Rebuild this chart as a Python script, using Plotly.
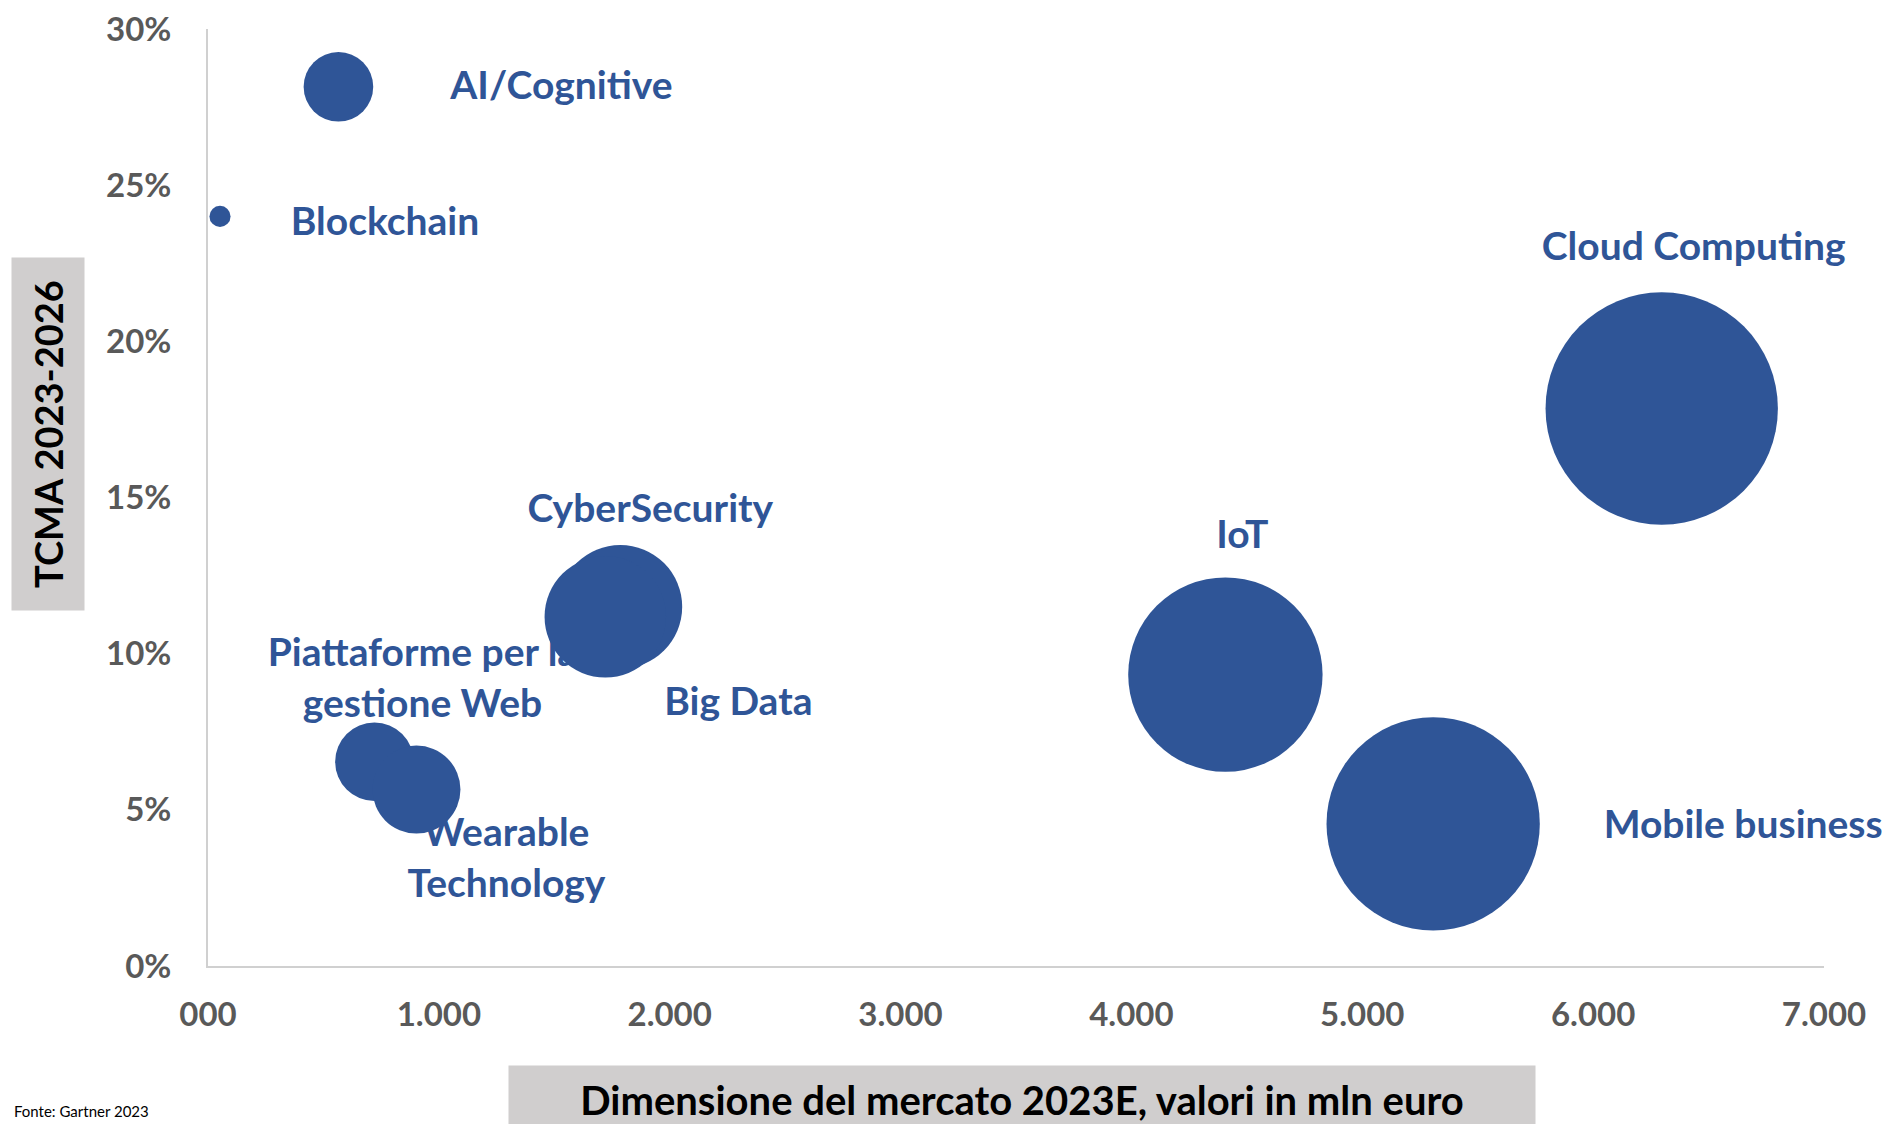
import plotly.graph_objects as go

# ---------------- data ----------------
technologies = [
    "AI/Cognitive",
    "Blockchain",
    "Cloud Computing",
    "CyberSecurity",
    "Big Data",
    "IoT",
    "Mobile business",
    "Piattaforme per la<br>gestione Web",
    "Wearable<br>Technology",
]
market_size_2023 = [565, 52, 6297, 1786, 1721, 4407, 5307, 721, 903]          # mln euro
tcma_2023_2026 = [0.2815, 0.240, 0.1785, 0.115, 0.1118, 0.0933, 0.0455, 0.0654, 0.0565]
bubble_size = market_size_2023

x_tick_values = [0, 1000, 2000, 3000, 4000, 5000, 6000, 7000]
x_tick_labels = ["000", "1.000", "2.000", "3.000", "4.000", "5.000", "6.000", "7.000"]
y_tick_values = [0, 0.05, 0.10, 0.15, 0.20, 0.25, 0.30]
y_tick_labels = ["0%", "5%", "10%", "15%", "20%", "25%", "30%"]

# label offsets from bubble centre, in pixels (right, up)
label_offsets_px = [
    (223, 2), (165, -5), (32, 162), (30, 99), (133, -84),
    (17, 140), (310, 0), (48, 84), (90, -68),
]
LABEL_SHIFT_UP = -4

# ---------------- layout geometry ----------------
# the page body has an 8px margin, so the figure is 8px smaller than the window
OFF = 8
W, H = 1892 - OFF, 1124 - OFF
ML, MR, MT, MB = 208 - OFF, 68, 29 - OFF, 158
X_RANGE = [0, 7000]
Y_RANGE = [0, 0.30]
plot_w = W - ML - MR
plot_h = H - MT - MB
px_per_x = plot_w / (X_RANGE[1] - X_RANGE[0])
px_per_y = plot_h / (Y_RANGE[1] - Y_RANGE[0])


def paper_x(px):  # absolute window pixel -> paper coordinate
    return (px - OFF - ML) / plot_w


def paper_y(py):
    return (H - MB - (py - OFF)) / plot_h


BLUE = "#2F5597"
GREY_TXT = "#595959"
FONT = "Lato"

label_x = [x + dx / px_per_x for x, (dx, dy) in zip(market_size_2023, label_offsets_px)]
label_y = [y + (dy + LABEL_SHIFT_UP) / px_per_y
           for y, (dx, dy) in zip(tcma_2023_2026, label_offsets_px)]

fig = go.Figure()

# labels (drawn first so bubbles sit on top of them, as in the original)
fig.add_trace(go.Scatter(
    x=label_x, y=label_y, text=technologies, mode="text",
    textposition="middle center",
    textfont=dict(family=FONT, size=39, color=BLUE, weight="bold"),
    cliponaxis=False, hoverinfo="skip", showlegend=False,
))

# bubbles
fig.add_trace(go.Scatter(
    x=market_size_2023, y=tcma_2023_2026, mode="markers",
    marker=dict(size=bubble_size, sizemode="area", sizeref=0.2333,
                color=BLUE, opacity=1, line=dict(width=0)),
    text=technologies, cliponaxis=False, showlegend=False,
))

axis_common = dict(
    showgrid=False, zeroline=False, showline=True,
    linecolor="#D0D0D0", linewidth=2,
    ticks="outside", tickcolor="rgba(0,0,0,0)",
    ticklabeloverflow="allow", automargin=False,
    tickfont=dict(family=FONT, size=33, color=GREY_TXT, weight="bold"),
)

fig.update_xaxes(range=X_RANGE, tickvals=x_tick_values, ticktext=x_tick_labels,
                 ticklen=18, **axis_common)
fig.update_yaxes(range=Y_RANGE, tickvals=y_tick_values, ticktext=y_tick_labels,
                 ticklen=28, **axis_common)

annotations = [
    # y-axis title in grey box
    dict(text="TCMA 2023-2026", textangle=-90,
         xref="paper", yref="paper",
         x=paper_x(48), y=paper_y(434),
         xanchor="center", yanchor="middle", showarrow=False,
         width=350, height=70, bgcolor="#D0CECE",
         font=dict(family=FONT, size=38, color="#000000", weight="bold")),
    # x-axis title in grey box
    dict(text="Dimensione del mercato 2023E, valori in mln euro",
         xref="paper", yref="paper",
         x=paper_x(1022), y=paper_y(1100),
         xanchor="center", yanchor="middle", showarrow=False,
         width=1024, height=66, bgcolor="#D0CECE",
         font=dict(family=FONT, size=40, color="#000000", weight="bold")),
    # source note
    dict(text="Fonte: Gartner 2023",
         xref="paper", yref="paper",
         x=paper_x(12), y=paper_y(1122),
         xanchor="left", yanchor="bottom", showarrow=False,
         font=dict(family=FONT, size=15, color="#000000")),
]

fig.update_layout(
    width=W, height=H, autosize=False,
    margin=dict(l=ML, r=MR, t=MT, b=MB, pad=0, autoexpand=False),
    paper_bgcolor="white", plot_bgcolor="white",
    annotations=annotations, showlegend=False,
    hovermode="closest",
)

fig.write_html("out.html", config={"displayModeBar": False})
